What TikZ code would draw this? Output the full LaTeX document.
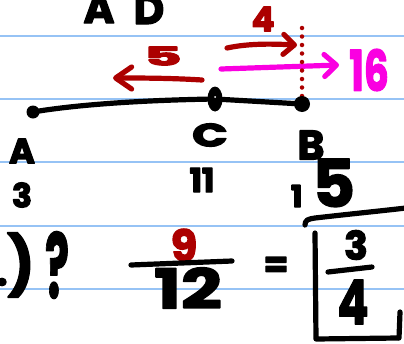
\documentclass[tikz,border=0pt]{standalone}
\usepackage{fontspec}
\setmainfont{Poppins}
\usetikzlibrary{arrows.meta}
\definecolor{ruled}{RGB}{150,195,245}
\definecolor{redink}{RGB}{172,0,0}
\definecolor{pinkink}{RGB}{250,0,225}
\newcommand{\hwfs}[1]{\fontsize{#1}{#1}\selectfont\bfseries}
\newcommand{\mk}[1]{\special{pdf:literal direct 2 Tr 1.3 w 1 j}#1\special{pdf:literal direct 0 Tr}}
\begin{document}
\begin{tikzpicture}[x=1pt,y=-1pt,
  hw/.style={inner sep=0pt, outer sep=0pt},
  pen/.style={line width=5.2pt, line cap=round, line join=round},
  rarrow/.style={pen, redink, -{Straight Barb[length=11pt,width=20pt,round]}},
  parrow/.style={pen, pinkink, -{Straight Barb[length=12pt,width=22pt,round]}},
  rule/.style={ruled, line width=1.6pt}]
\useasboundingbox (0,0) rectangle (404,343);
\clip (0,0) rectangle (404,343);
\fill[white] (0,0) rectangle (404,343);
% ruled lines
\foreach \yy in {36,99,162,226,289} \draw[rule] (0,\yy) -- (404,\yy);

% top letters
\node[hw, anchor=base, font=\hwfs{42}] (topA) at (99,23) {\mk{A}};
\node[hw, anchor=base, font=\hwfs{42}] (topD) at (149,24) {\mk{D}};

% red 4 and arrows
\node[hw, font=\hwfs{34}, text=redink] (four) at (263,19) {\mk{4}};
\coordinate (r1s) at (227,48);
\coordinate (r1e) at (297,45);
\draw[rarrow] (r1s) .. controls (250,43) and (275,44) .. (r1e);
\coordinate (ps) at (221,69);
\coordinate (pe) at (339,65);
\draw[parrow] (ps) -- (pe);
\node[hw, font=\hwfs{56}, text=pinkink] (sixteen) at (369,70) {\scalebox{0.7}[1]{\mk{16}}};
\node[hw, font=\hwfs{30}, text=redink] (five) at (163,56) {\scalebox{1.9}[0.85]{\mk{5}}};
\coordinate (r2s) at (202,80);
\coordinate (r2e) at (113,78);
\draw[pen, redink, -{Straight Barb[length=16pt,width=22pt,round]}] (r2s) .. controls (170,78) and (140,78) .. (r2e);

% dotted vertical
\coordinate (dtop) at (302,28);
\coordinate (dbot) at (302,97);
\draw[redink, line width=4.5pt, line cap=round, dash pattern=on 0pt off 8.5pt] (dtop) -- (dbot);

% segment A C B
\coordinate (pA) at (33,112);
\coordinate (pC) at (215,99);
\coordinate (pB) at (302,104);
\draw[pen] (pA) .. controls (80,104) and (150,100) .. (pC) -- (pB);
\fill (pA) circle (6.5pt);
\fill (pB) circle (8pt);
\fill (pC) ellipse (7.5pt and 12.5pt);
\fill[white] (215,97) circle (1pt);

% labels
\node[hw, font=\hwfs{35}] (labA) at (22,151) {\mk{A}};
\node[hw, font=\hwfs{32}] (labC) at (210,135) {\scalebox{1.45}[1]{\mk{C}}};
\node[hw, font=\hwfs{41}] (labB) at (311,145) {\mk{B}};
\node[hw, font=\hwfs{33}] (n3) at (22,195) {\mk{3}};
\node[hw, font=\hwfs{33}] (n11) at (202,180) {\mk{11}};
\node[hw, anchor=base west] (n15) at (291,207) {{\hwfs{30}\mk{1}}\hspace{10pt}{\hwfs{66}\mk{5}}};

% left bottom
\node[hw, font=\hwfs{58}] (paren) at (21,265) {\mk{)}};
\node[hw, font=\hwfs{40}] (dot) at (2,282) {\mk{.}};
\node[hw, font=\hwfs{90}, anchor=base] (qm) at (57,298) {\scalebox{0.5}[1]{\mk{?}}};

% fraction 9/12
\node[hw, font=\hwfs{43}, text=redink] (nine) at (184,245) {\mk{9}};
\coordinate (b1s) at (131,265);
\coordinate (b1e) at (232,261);
\draw[pen] (b1s) -- (b1e);
\node[hw, font=\hwfs{55}] (twelve) at (188,288) {\scalebox{1.3}[1]{\mk{12}}};
\node[hw, font=\hwfs{36}] (eq) at (276,267) {\mk{=}};

% boxed 3/4
\node[hw, font=\hwfs{39}] (b3) at (356,245) {\mk{3}};
\coordinate (b2s) at (328,272);
\coordinate (b2e) at (372,267);
\draw[pen] (b2s) -- (b2e);
\node[hw, font=\hwfs{62}] (b4) at (353,302) {\scalebox{0.75}[1]{\mk{4}}};
\draw[pen] (305,225) .. controls (305,220) and (308,219) .. (315,218) .. controls (350,214) and (380,211) .. (406,208);
\draw[pen] (315,233) -- (316,339) -- (398,338);
\draw[pen] (400,312) -- (399,338);
\end{tikzpicture}
\end{document}
